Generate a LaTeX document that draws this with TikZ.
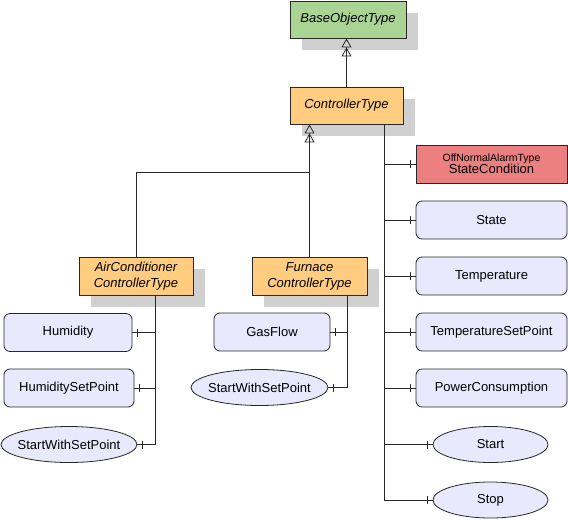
\documentclass[tikz,border=0pt]{standalone}
\usepackage{fontspec}
\setmainfont{Liberation Sans}
\usetikzlibrary{arrows.meta,shapes.geometric,decorations.markings}
\definecolor{greenfill}{RGB}{169,212,148}
\definecolor{orangefill}{RGB}{255,204,128}
\definecolor{redfill}{RGB}{236,128,128}
\definecolor{lavfill}{RGB}{233,233,253}
\definecolor{shadowgray}{RGB}{208,208,208}
\definecolor{edgegray}{RGB}{40,40,40}
\newcommand{\zwtext}[1]{\makebox[0pt]{#1}}
\tikzset{
  shadowed/.style={preaction={draw=none,fill=shadowgray,transform canvas={shift={(12pt,-12pt)}}}},
  typebox/.style={shadowed,draw=edgegray,line width=0.9pt,inner sep=0pt,align=center,font=\fontsize{13}{16}\selectfont\itshape},
  basebox/.style={typebox,fill=greenfill},
  ctrlbox/.style={typebox,fill=orangefill},
  varbox/.style={draw=edgegray,line width=0.8pt,fill=lavfill,rounded corners=6pt,inner sep=0pt,font=\fontsize{13}{15}\selectfont,minimum height=38pt},
  alarmbox/.style={draw=edgegray,line width=0.8pt,fill=redfill,inner sep=0pt,align=center,minimum width=151pt,minimum height=38pt},
  methnode/.style={ellipse,draw=edgegray,line width=0.8pt,fill=lavfill,inner sep=0pt,font=\fontsize{13}{15}\selectfont,minimum height=36pt},
  gen/.style={draw=edgegray,line width=0.9pt,-{Triangle[open,width=10pt,length=9pt,line width=0.8pt]Triangle[open,width=10pt,length=9pt,line width=0.8pt]}},
  comp/.style={draw=edgegray,line width=0.9pt,postaction={decorate},decoration={markings,mark=at position 1 with {\draw[line width=0.9pt] (-5pt,-4pt) -- (-5pt,4pt);}}},
}
\begin{document}
\begin{tikzpicture}[x=1pt,y=-1pt]
\useasboundingbox (0,0) rectangle (568,520);
% type nodes
\node[basebox,minimum width=116pt,minimum height=37pt] (base) at (348,19.5) {BaseObjectType};
\node[ctrlbox,minimum width=113pt,minimum height=37pt] (ct) at (346.5,105.5) {ControllerType};
\node[ctrlbox,minimum width=114pt,minimum height=38pt] (air) at (136,276) {AirConditioner\\ControllerType};
\node[ctrlbox,minimum width=115pt,minimum height=38pt] (furn) at (309.5,276) {Furnace\\ControllerType};
% right column
\node[alarmbox] (sc) at (491.5,164) {\fontsize{10.5}{11}\selectfont OffNormalAlarmType\\[0pt]\fontsize{13}{15}\selectfont StateCondition};
\node[varbox,minimum width=151pt] (state) at (491.5,220) {State};
\node[varbox,minimum width=151pt] (temp) at (491.5,276) {Temperature};
\node[varbox,minimum width=151pt] (tsp) at (491.5,332) {TemperatureSetPoint};
\node[varbox,minimum width=151pt] (pc) at (491.5,388) {PowerConsumption};
\node[methnode,minimum width=115pt] (start) at (490.5,444.5) {\zwtext{Start}};
\node[methnode,minimum width=115pt] (stop) at (490.5,500) {\zwtext{Stop}};
% air conditioner children
\node[varbox,minimum width=128pt] (hum) at (68,332.5) {Humidity};
\node[varbox,minimum width=130pt] (humsp) at (69,388) {HumiditySetPoint};
\node[methnode,minimum width=136pt] (sws1) at (69,444.5) {\zwtext{StartWithSetPoint}};
% furnace children
\node[varbox,minimum width=116pt] (gas) at (272,332) {GasFlow};
\node[methnode,minimum width=137pt] (sws2) at (259.5,387.5) {\zwtext{StartWithSetPoint}};
% coordinates
\coordinate (trunk) at (384,124);
\coordinate (j) at (310,172);
\coordinate (airtrunk) at (155,295);
\coordinate (furntrunk) at (347,295);
% generalization
\draw[gen] (ct.north) -- (ct.north |- base.south);
\draw[gen] (furn.north) -- (furn.north |- ct.south);
\draw[draw=edgegray,line width=0.9pt] (air.north) |- (j);
% composition, controller
\foreach \t in {sc,state,temp,tsp,pc,start,stop}
  \draw[comp] (trunk) |- (\t.west);
% air conditioner
\foreach \t in {hum,humsp,sws1}
  \draw[comp] (airtrunk) |- (\t.east);
% furnace
\foreach \t in {gas,sws2}
  \draw[comp] (furntrunk) |- (\t.east);
\end{tikzpicture}
\end{document}
